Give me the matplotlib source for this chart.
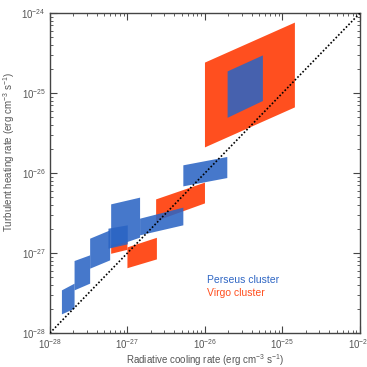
import numpy as np
import matplotlib
matplotlib.use("Agg")
import matplotlib.pyplot as plt

plt.rcParams['font.family'] = ['Liberation Sans', 'DejaVu Sans']
plt.rcParams['mathtext.fontset'] = 'custom'
plt.rcParams['mathtext.rm'] = 'Liberation Sans'
plt.rcParams['mathtext.it'] = 'Liberation Sans:italic'
plt.rcParams['mathtext.bf'] = 'Liberation Sans:bold'

# boxes given as log10 values: cooling range (x) and heating range at left / right edge
# Virgo cluster (orange)
virgo_x_lo = [-27.21, -27.00, -26.63, -26.00]
virgo_x_hi = [-27.00, -26.62, -26.00, -24.84]
virgo_yl_lo = [-27.01, -27.19, -26.60, -25.68]
virgo_yl_hi = [-26.90, -26.93, -26.33, -24.62]
virgo_yr_lo = [-26.96, -27.08, -26.38, -25.18]
virgo_yr_hi = [-26.86, -26.81, -26.12, -24.12]

# Perseus cluster (blue)
perseus_x_lo = [-27.845, -27.682, -27.481, -27.21, -27.245, -26.837, -26.279, -25.708]
perseus_x_hi = [-27.682, -27.481, -27.223, -26.837, -26.996, -26.279, -25.712, -25.253]
perseus_yl_lo = [-27.767, -27.467, -27.196, -26.933, -26.946, -26.779, -26.167, -25.31]
perseus_yl_hi = [-27.467, -27.100, -26.821, -26.392, -26.696, -26.571, -25.904, -24.73]
perseus_yr_lo = [-27.696, -27.383, -27.092, -26.808, -26.892, -26.654, -26.063, -25.10]
perseus_yr_hi = [-27.383, -27.029, -26.717, -26.308, -26.654, -26.433, -25.800, -24.53]

lim = [1e-28, 1e-24]

fig = plt.figure(figsize=(3.67, 3.67), dpi=100)
ax = fig.add_axes([0.136, 0.0926, 0.845, 0.872])

def draw_boxes(xl, xh, yll, ylh, yrl, yrh, color, alpha):
    for i in range(len(xl)):
        xs = 10 ** np.array([xl[i], xh[i], xh[i], xl[i]])
        ys = 10 ** np.array([yll[i], yrl[i], yrh[i], ylh[i]])
        ax.fill(xs, ys, color=color, alpha=alpha, lw=0, zorder=2)

draw_boxes(virgo_x_lo, virgo_x_hi, virgo_yl_lo, virgo_yl_hi, virgo_yr_lo, virgo_yr_hi,
           '#ff4f1f', 1.0)
draw_boxes(perseus_x_lo, perseus_x_hi, perseus_yl_lo, perseus_yl_hi, perseus_yr_lo, perseus_yr_hi,
           '#2a64c4', 0.87)

# one-to-one line
ax.plot(lim, lim, color='black', lw=1.2, ls=(0, (1, 1.2)), zorder=3)

ax.set_xscale('log')
ax.set_yscale('log')
ax.set_xlim(lim)
ax.set_ylim(lim)

ax.tick_params(which='both', direction='in', top=True, right=True,
               labelsize=7, labelcolor='#555555', color='#444444')
ax.tick_params(which='major', length=5, width=0.8, pad=3)
ax.tick_params(which='minor', length=2.5, width=0.6)
for s in ax.spines.values():
    s.set_color('#444444')
    s.set_linewidth(1.0)

ax.set_xlabel('Radiative cooling rate (erg cm$^{-3}$ s$^{-1}$)', fontsize=7, color='#555555')
ax.set_ylabel('Turbulent heating rate (erg cm$^{-3}$ s$^{-1}$)', fontsize=7, color='#555555')
ax.xaxis.set_label_coords(0.5, -0.06)
ax.yaxis.set_label_coords(-0.105, 0.565)

ax.text(0.508, 0.165, 'Perseus cluster', transform=ax.transAxes, fontsize=7.5,
        color='#2f66c4', va='center')
ax.text(0.508, 0.125, 'Virgo cluster', transform=ax.transAxes, fontsize=7.5,
        color='#ff4f1f', va='center')

fig.savefig('out.png', dpi=100)
